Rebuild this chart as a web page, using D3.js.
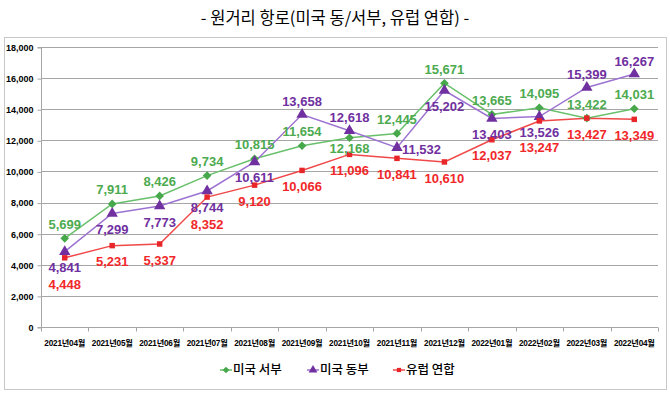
<!DOCTYPE html>
<html>
<head>
<meta charset="utf-8">
<script src="https://cdn.jsdelivr.net/npm/d3@7"></script>
<style>
  html, body { margin: 0; padding: 0; background: #fff; }
  svg { display: block; }
</style>
</head>
<body>
<svg id="chart" width="670" height="394"></svg>
<script>
const categories = ["2021년04월","2021년05월","2021년06월","2021년07월","2021년08월","2021년09월","2021년10월","2021년11월","2021년12월","2022년01월","2022년02월","2022년03월","2022년04월"];
const westValues = [5699, 7911, 8426, 9734, 10815, 11654, 12168, 12445, 15671, 13665, 14095, 13422, 14031];
const eastValues = [4841, 7299, 7773, 8744, 10611, 13658, 12618, 11532, 15202, 13403, 13526, 15399, 16267];
const euValues   = [4448, 5231, 5337, 8352, 9120, 10066, 11096, 10841, 10610, 12037, 13247, 13427, 13349];
const yTicks = [0, 2000, 4000, 6000, 8000, 10000, 12000, 14000, 16000, 18000];
const seriesNames = ["미국 서부", "미국 동부", "유럽 연합"];
// label placement: a = above, b = below, bs = just below, bb = further below, r = right
const westLabelPos = ["a","a","a","a","a","a","bs","a","a","a","a","a","a"];
const eastLabelPos = ["b","b","b","b","b","a","a","r","b","b","b","a","a"];
const euLabelPos   = ["bb","b","b","bb","b","b","b","b","b","b","bb","b","b"];
const titleText = "- 원거리 항로(미국 동/서부, 유럽 연합) -";

(function () {
const svg = d3.select("#chart");
const pLeft = 41, pRight = 658, pTop = 47, pBottom = 327;

// outer chart frame
svg.append("rect").attr("x", 4.5).attr("y", 37.5).attr("width", 662).attr("height", 352)
  .attr("fill", "#fff").attr("stroke", "#c8c8c8").attr("stroke-width", 1);

svg.append("text").attr("x", 335).attr("y", 18).attr("text-anchor", "middle")
  .attr("dy", "0.35em")
  .style("font-family", "'Noto Sans CJK KR', 'Noto Sans', sans-serif")
  .style("font-size", "16.5px").attr("fill", "#000").text(titleText);

const x = d3.scaleBand().domain(categories).range([pLeft, pRight]).padding(0);
const y = d3.scaleLinear().domain([0, 18000]).range([pBottom, pTop]);
const cx = c => x(c) + x.bandwidth() / 2;

// gridlines
svg.append("g").selectAll("line").data(yTicks.filter(t => t > 0)).join("line")
  .attr("x1", pLeft).attr("x2", pRight)
  .attr("y1", d => Math.round(y(d)) + 0.5).attr("y2", d => Math.round(y(d)) + 0.5)
  .attr("stroke", "#a6a6a6").attr("stroke-width", 1);

// y axis
const yAxis = d3.axisLeft(y).tickValues(yTicks).tickFormat(d3.format(",")).tickSize(4).tickPadding(4);
const gy = svg.append("g").attr("transform", `translate(${pLeft + 0.5},0.5)`).call(yAxis);
gy.select(".domain").attr("stroke", "#a6a6a6").attr("d", `M-4,${y(18000)}H0V${y(0)}H-4`);
gy.selectAll(".tick line").attr("stroke", "#a6a6a6");
gy.selectAll(".tick text").attr("fill", "#000")
  .style("font-family", "'Liberation Sans', Arial, sans-serif")
  .style("font-size", "9px").style("font-weight", "bold");

// x axis
const xAxis = d3.axisBottom(x).tickSize(0).tickPadding(13);
const gx = svg.append("g").attr("transform", `translate(0,${pBottom + 0.5})`).call(xAxis);
gx.select(".domain").attr("stroke", "#a6a6a6").attr("d", `M${pLeft},0H${pRight}`);
gx.selectAll(".tick text").attr("fill", "#000")
  .style("font-family", "'Liberation Sans', 'Noto Sans CJK KR', sans-serif")
  .style("font-size", "8.2px").style("font-weight", "bold").style("letter-spacing", "-0.2px");
gx.append("g").selectAll("line").data(categories.concat([null])).join("line")
  .attr("x1", (d, i) => Math.round(pLeft + i * x.bandwidth()) + 0.5)
  .attr("x2", (d, i) => Math.round(pLeft + i * x.bandwidth()) + 0.5)
  .attr("y1", 0).attr("y2", 4).attr("stroke", "#a6a6a6");

const series = [
  { name: seriesNames[0], values: westValues, pos: westLabelPos, line: "#69c06b", marker: "#47a84b", label: "#4daa4f", symbol: d3.symbolDiamond2, size: 48, above: -14 },
  { name: seriesNames[1], values: eastValues, pos: eastLabelPos, line: "#9d73d2", marker: "#7030a0", label: "#7030a0", symbol: d3.symbolTriangle, size: 56, above: -13 },
  { name: seriesNames[2], values: euValues, pos: euLabelPos, line: "#f04848", marker: "#e8262a", label: "#f0282a", symbol: d3.symbolSquare, size: 30, above: -14 }
];

const line = d3.line().x((d, i) => cx(categories[i])).y(d => y(d));

series.forEach(s => {
  svg.append("path").datum(s.values).attr("d", line)
    .attr("fill", "none").attr("stroke", s.line).attr("stroke-width", 1.5);
});
series.forEach(s => {
  svg.append("g").selectAll("path").data(s.values).join("path")
    .attr("transform", (d, i) => `translate(${cx(categories[i])},${y(d)})`)
    .attr("d", d3.symbol(s.symbol, s.size)).attr("fill", s.marker);
});

const offsets = { b: 16, bs: 11, bb: 27, r: 2 };
series.forEach(s => {
  svg.append("g").selectAll("text").data(s.values).join("text")
    .attr("x", (d, i) => cx(categories[i]) + (s.pos[i] === "r" ? 5 : 0))
    .attr("y", (d, i) => y(d) + (s.pos[i] === "a" ? s.above : offsets[s.pos[i]]))
    .attr("dy", "0.35em")
    .attr("text-anchor", (d, i) => s.pos[i] === "r" ? "start" : "middle")
    .attr("fill", s.label)
    .style("font-family", "'Liberation Sans Narrow', 'Liberation Sans', sans-serif")
    .style("font-size", "13px").style("font-weight", "bold")
    .text(d => d3.format(",")(d));
});

// legend
const legendItems = [
  { s: series[0], x: 220 },
  { s: series[1], x: 307 },
  { s: series[2], x: 393 }
];
const lg = svg.append("g");
legendItems.forEach(it => {
  const ly = 370;
  lg.append("line").attr("x1", it.x).attr("x2", it.x + 12).attr("y1", ly).attr("y2", ly)
    .attr("stroke", it.s.line).attr("stroke-width", 1.5);
  lg.append("path").attr("transform", `translate(${it.x + 6},${ly})`)
    .attr("d", d3.symbol(it.s.symbol, it.s.size * 0.6)).attr("fill", it.s.marker);
  lg.append("text").attr("x", it.x + 13).attr("y", ly).attr("dy", "0.35em")
    .style("font-family", "'Noto Sans CJK KR', sans-serif")
    .style("font-size", "12.5px").style("font-weight", "500").attr("fill", "#000")
    .text(it.s.name);
});
})();
</script>
</body>
</html>
